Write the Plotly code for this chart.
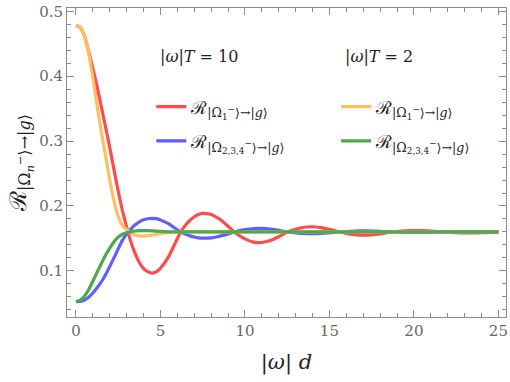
import plotly.graph_objects as go

# |omega| d grid for the readings
x_red = [0, 0.25, 0.5, 0.75, 1.0, 1.25, 1.5, 1.75, 2.0, 2.25, 2.5, 2.75, 3.0, 3.25, 3.5, 3.75,
         4.0, 4.25, 4.5, 4.75, 5.0, 5.5, 6.0, 6.25, 6.5, 6.75, 7.0, 7.25, 7.5, 7.75, 8.0, 8.5,
         9.0, 9.5, 10.0, 10.5, 11.0, 11.5, 12.0, 12.5, 13.0, 13.5, 14.0, 14.5, 15.0, 15.5,
         16.0, 16.5, 17.0, 17.5, 18.0, 18.5, 19.0, 19.5, 20.0, 20.5, 21.0, 21.5, 22.0, 22.5,
         23.0, 23.5, 24.0, 24.5, 25.0]
# |w|T = 10, |Omega_1^-> -> |g>
red = [0.478, 0.475, 0.462, 0.438, 0.412, 0.384, 0.353, 0.322, 0.290, 0.256, 0.223, 0.193,
       0.1675, 0.145, 0.127, 0.113, 0.1036, 0.0988, 0.0966, 0.0985, 0.1041, 0.1227, 0.150,
       0.162, 0.171, 0.178, 0.1835, 0.187, 0.1887, 0.1883, 0.187, 0.1799, 0.1689, 0.1573,
       0.1493, 0.1444, 0.1438, 0.1468, 0.1526, 0.160, 0.1643, 0.1672, 0.168, 0.1668, 0.1642,
       0.1607, 0.1578, 0.1558, 0.155, 0.1555, 0.157, 0.1591, 0.1607, 0.1617, 0.1622, 0.1621,
       0.1615, 0.1606, 0.1597, 0.1589, 0.1586, 0.1585, 0.1588, 0.1593, 0.1598]
# |w|T = 10, |Omega_{2,3,4}^-> -> |g>
blue = [0.0528, 0.053, 0.0552, 0.0595, 0.066, 0.074, 0.083, 0.094, 0.107, 0.120, 0.134, 0.147,
        0.157, 0.1645, 0.171, 0.1757, 0.1788, 0.1804, 0.181, 0.1805, 0.1786, 0.1724, 0.1633,
        0.1593, 0.1563, 0.154, 0.1522, 0.151, 0.1504, 0.1506, 0.151, 0.1534, 0.157, 0.1609,
        0.1636, 0.1652, 0.1654, 0.1644, 0.1625, 0.160, 0.1586, 0.1576, 0.1573, 0.1577, 0.1586,
        0.1598, 0.1607, 0.1614, 0.1617, 0.1615, 0.161, 0.1603, 0.1598, 0.1594, 0.1593, 0.1593,
        0.1595, 0.1598, 0.1601, 0.1604, 0.1605, 0.1605, 0.1604, 0.1602, 0.1601]

x_short = [0, 0.25, 0.5, 0.75, 1.0, 1.25, 1.5, 1.75, 2.0, 2.25, 2.5, 2.75, 3.0, 3.25, 3.5, 3.75,
           4.0, 4.5, 5.0, 5.5, 6.0, 7.0, 10.0, 15.0, 20.0, 25.0]
# |w|T = 2, |Omega_1^-> -> |g>
orange = [0.478, 0.4755, 0.462, 0.436, 0.398, 0.355, 0.314, 0.278, 0.240, 0.208, 0.184, 0.170,
          0.164, 0.159, 0.1555, 0.154, 0.1537, 0.155, 0.1575, 0.1592, 0.160, 0.160, 0.160,
          0.160, 0.160, 0.160]
# |w|T = 2, |Omega_{2,3,4}^-> -> |g>
green = [0.0528, 0.055, 0.061, 0.071, 0.084, 0.098, 0.111, 0.124, 0.135, 0.145, 0.152, 0.1565,
         0.1587, 0.1603, 0.1615, 0.162, 0.1621, 0.1617, 0.1608, 0.1602, 0.160, 0.160, 0.160,
         0.160, 0.160, 0.160]

lbl1 = "ℛ<sub>|Ω<sub>1</sub><sup>−</sup>⟩→|<i>g</i>⟩</sub>"
lbl234 = "ℛ<sub>|Ω<sub>2,3,4</sub><sup>−</sup>⟩→|<i>g</i>⟩</sub>"

SERIF = "DejaVu Serif"
fig = go.Figure()
series = [(x_red, red, "rgb(255,75,75)", lbl1, "legend"),
          (x_red, blue, "rgb(95,95,255)", lbl234, "legend"),
          (x_short, orange, "rgb(255,190,95)", lbl1, "legend2"),
          (x_short, green, "rgb(75,170,75)", lbl234, "legend2")]
for i, (xs, ys, c, name, lg) in enumerate(series):
    fig.add_trace(go.Scatter(x=xs, y=ys, mode="lines", name=name, legend=lg,
                             legendgroup=str(i),
                             line=dict(color=c, width=3.2, shape="spline", smoothing=0.4)))

ax = dict(showline=True, linecolor="#8c8c8c", linewidth=1, mirror="ticks",
          ticks="inside", tickcolor="#8c8c8c", ticklen=7, showgrid=False, zeroline=False,
          tickfont=dict(family=SERIF, size=15, color="#666666"))
fig.update_xaxes(**ax, range=[-0.53, 25.45], dtick=5, tick0=0,
                 minor=dict(dtick=1, ticklen=4, ticks="inside", tickcolor="#8c8c8c"),
                 title=dict(text="|<i>ω</i>| <i>d</i>", font=dict(family=SERIF, size=21, color="#222"),
                            standoff=15))
fig.update_yaxes(**ax, range=[0.029, 0.505], dtick=0.1, tick0=0,
                 minor=dict(dtick=0.02, ticklen=4, ticks="inside", tickcolor="#8c8c8c"),
                 title=dict(text="ℛ<sub>|Ω<sub><i>n</i></sub><sup>−</sup>⟩→|<i>g</i>⟩</sub>",
                            font=dict(family=SERIF, size=23, color="#222"), standoff=6))

leg = dict(font=dict(family=SERIF, size=18, color="#222"), bgcolor="rgba(0,0,0,0)",
           tracegroupgap=8, itemwidth=30, yanchor="top")
fig.update_layout(
    width=510, height=382, margin=dict(l=67, r=2, t=8, b=65),
    plot_bgcolor="white", paper_bgcolor="white", showlegend=True,
    legend=dict(**leg, x=0.192, y=0.74),
    legend2=dict(**leg, x=0.613, y=0.74),
    annotations=[
        dict(text="|<i>ω</i>|<i>T</i> = 10", x=0.3, y=0.88, xref="paper", yref="paper",
             xanchor="center", showarrow=False, font=dict(family=SERIF, size=16, color="#222")),
        dict(text="|<i>ω</i>|<i>T</i> = 2", x=0.71, y=0.88, xref="paper", yref="paper",
             xanchor="center", showarrow=False, font=dict(family=SERIF, size=16, color="#222")),
    ],
)
fig.write_html("out.html", config={"displayModeBar": False},
               post_script="document.body.style.margin='0';")
